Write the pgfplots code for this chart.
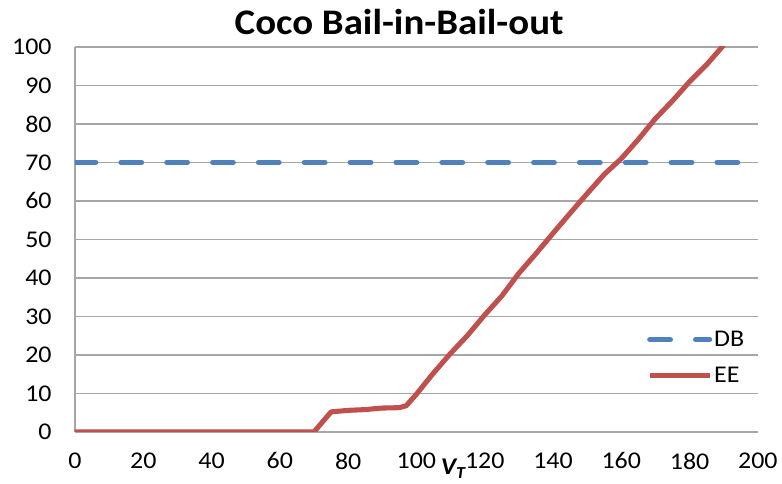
\documentclass[border=0pt]{standalone}
\usepackage{fontspec}
\setmainfont{Carlito}[FakeStretch=1.08]
\usepackage{pgfplots}
\pgfplotsset{compat=1.18}
\definecolor{dbblue}{HTML}{4F81BD}
\definecolor{eered}{HTML}{C0504D}
\definecolor{gridgray}{HTML}{A6A6A6}

\begin{document}
\begin{tikzpicture}
\begin{axis}[
  scale only axis,
  width=512.25pt, height=288.75pt,
  xmin=0, xmax=200, ymin=0, ymax=100,
  xtick={0,20,...,200}, ytick={0,10,...,100},
  axis line style={draw=none},
  tick style={draw=none},
  ymajorgrids,
  extra x ticks={0}, extra x tick labels={},
  extra x tick style={grid=major},
  major grid style={gridgray, line width=1.1pt},
  ticklabel style={font=\fontsize{18}{20}\selectfont},
  /pgf/number format/assume math mode=true,
  yticklabel style={xshift=-14pt},
  xticklabel style={yshift=-12pt},
  title={Coco Bail-in-Bail-out},
  title style={font=\bfseries\fontsize{27}{30}\selectfont, xshift=-13pt, yshift=0pt},
  legend style={at={(axis cs:167.5,27)}, anchor=north west, draw=none, fill=none,
    font=\fontsize{18}{20}\selectfont, inner sep=0pt, row sep=10pt,
    nodes={inner xsep=1.5pt}},
  legend cell align=left,
  legend image code/.code={\draw[#1] (0pt,0pt) -- (45pt,0pt);},
]
% constant debt barrier
\addplot[dbblue, line width=3.8pt, line cap=round, dash pattern=on 15.6pt off 18.8pt]
  coordinates {(0,70) (195,70)};
\addlegendentry{DB}
% equity payoff
\addplot[eered, line width=3.8pt, line join=round] coordinates {
  (0,0) (10,0) (20,0) (30,0) (40,0) (50,0) (60,0) (70,0)
  (75,5.2) (80,5.6) (85,5.8) (90,6.2) (95,6.3) (97,6.8)
  (100,9.8) (105,15.3) (110,20.4) (115,25.1) (120,30.4) (125,35.3)
  (130,41.2) (135,46.3) (140,51.6) (145,56.8) (150,61.9) (155,66.9)
  (160,71.0) (165,76.0) (170,81.4) (175,86.0) (180,91.0) (185,95.4) (190,100.5)
};
\addlegendentry{EE}
\coordinate (vt) at (axis cs:110.8,0);
\end{axis}
\node[font=\bfseries\itshape\fontsize{18}{20}\selectfont, inner sep=0pt] at (vt) [yshift=-27.5pt] {V\textsubscript{T}};
\path (current axis.south west) ++(-56.25pt,-39pt) coordinate (bl);
\path (current axis.north east) ++(18pt,35.25pt) coordinate (tr);
\path (bl) rectangle (tr);
\end{tikzpicture}
\end{document}
